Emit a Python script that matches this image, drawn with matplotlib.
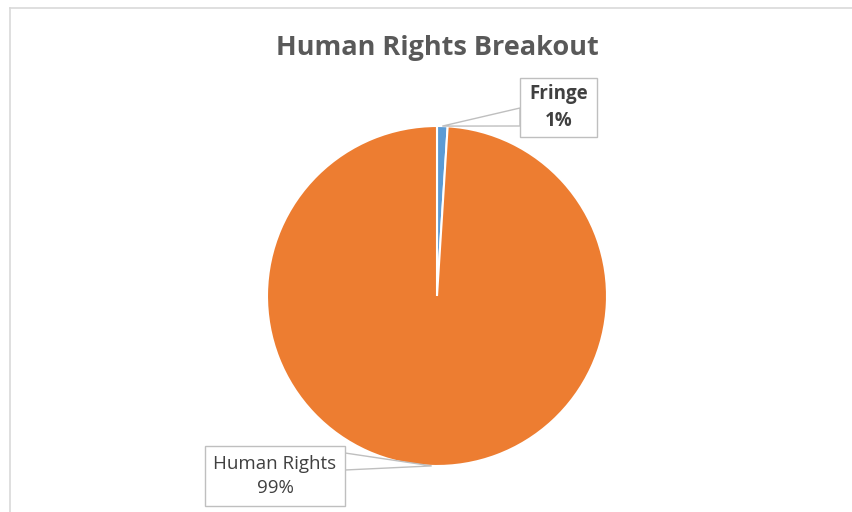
import numpy as np
import matplotlib.pyplot as plt
from matplotlib.lines import Line2D
from matplotlib.patches import Polygon

plt.rcParams['font.family'] = ['Open Sans', 'DejaVu Sans']

categories = ['Fringe', 'Human Rights']
shares = [1, 99]
colors = ['#5B9BD5', '#ED7D31']

W, H = 852, 512
fig = plt.figure(figsize=(W / 100, H / 100), dpi=100)

# pie axes: centre (437, 296) px, radius 170 px
cx, cy, r = 437, 296, 170
ax = fig.add_axes([(cx - r) / W, (H - cy - r) / H, 2 * r / W, 2 * r / H])
wedges, _ = ax.pie(shares, colors=colors, startangle=90, counterclock=False,
                   radius=1, wedgeprops=dict(edgecolor='white', linewidth=1.5))
ax.set_xlim(-1, 1)
ax.set_ylim(-1, 1)
ax.set_aspect('equal')
ax.axis('off')

# chart area border (top and left edges visible)
fig.add_artist(Line2D([10 / W, 10 / W], [0, 1 - 8 / H], color='#d9d9d9', lw=1.2))
fig.add_artist(Line2D([10 / W, 1], [1 - 8 / H, 1 - 8 / H], color='#d9d9d9', lw=1.2))

fig.text(437 / W, 1 - 48 / H, 'Human Rights Breakout', ha='center', va='center',
         fontsize=19.5, fontweight='bold', color='#595959')


def px(x, y):
    return x / W, 1 - y / H


def callout(wedge, box, text, bold, anchor_y):
    # box = (x0, y0, x1, y1) in pixels from top-left
    x0, y0, x1, y1 = box
    ang = np.deg2rad((wedge.theta1 + wedge.theta2) / 2)
    tip = (cx + r * np.cos(ang), cy - r * np.sin(ang))
    side = x0 if tip[0] < x0 else x1
    pts = [px(*tip), px(side, anchor_y[0]), px(side, anchor_y[1])]
    fig.add_artist(Polygon(pts, closed=True, facecolor='white',
                           edgecolor='#bfbfbf', lw=1.0, zorder=3))
    fig.add_artist(Polygon([px(x0, y0), px(x1, y0), px(x1, y1), px(x0, y1)],
                           closed=True, facecolor='white', edgecolor='#bfbfbf',
                           lw=1.0, zorder=4))
    fig.text((x0 + x1) / 2 / W, 1 - (y0 + y1) / 2 / H, text, ha='center',
             va='center', fontsize=13.5, linespacing=1.4, color='#404040',
             fontweight='bold' if bold else 'normal', zorder=5)


pct = ['%d%%' % round(s / sum(shares) * 100) for s in shares]
callout(wedges[0], (520, 78, 597, 137), categories[0] + '\n' + pct[0], True, (108, 126))
callout(wedges[1], (205, 446, 345, 506), categories[1] + '\n' + pct[1], False, (453, 470))

fig.savefig('out.png', dpi=100, facecolor='white')
